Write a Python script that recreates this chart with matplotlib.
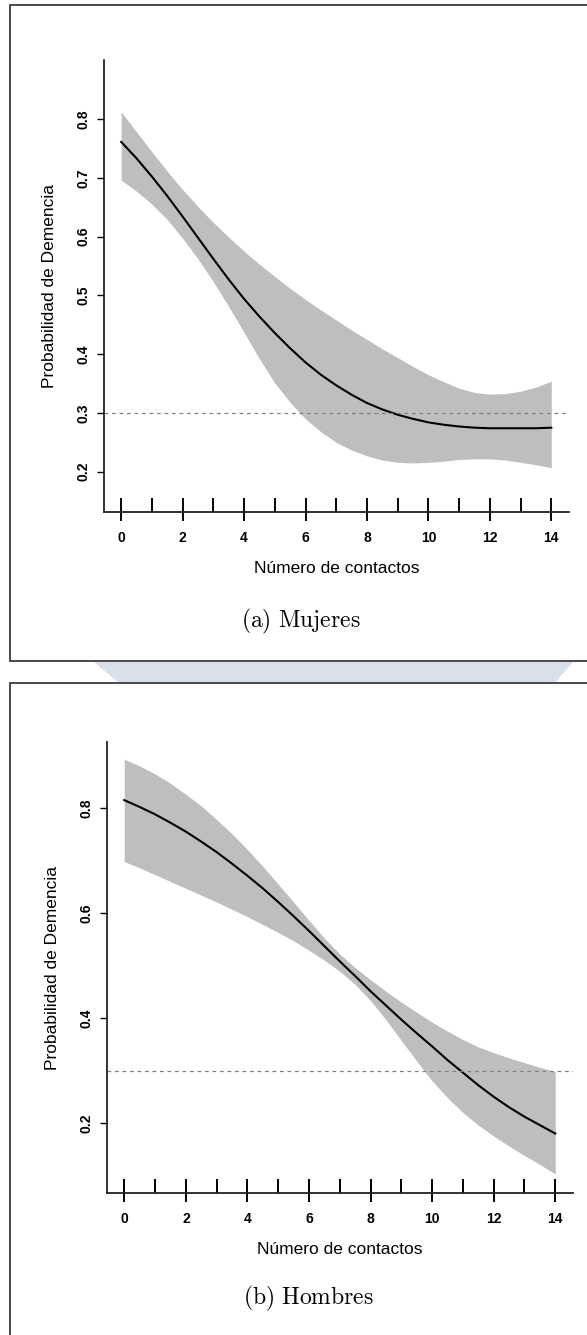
import numpy as np
import matplotlib.pyplot as plt
from matplotlib.patches import Rectangle, Polygon

plt.rcParams['font.family'] = ['Liberation Sans', 'DejaVu Sans']
plt.rcParams['mathtext.fontset'] = 'cm'

# Valores de x donde se evaluó la curva ajustada
contactos = [0, 0.5, 1, 1.5, 2, 2.5, 3, 3.5, 4, 4.5, 5, 5.5, 6, 6.5, 7,
             7.5, 8, 8.5, 9, 9.5, 10, 10.5, 11, 11.5, 12, 12.5, 13, 13.5, 14]
# Valores observados del número de contactos (rug)
contactos_obs = [0, 1, 2, 3, 4, 5, 6, 7, 8, 9, 10, 11, 12, 13, 14]

# Mujeres: probabilidad estimada e intervalo de confianza
prob_mujeres = [0.761, 0.733, 0.702, 0.669, 0.634, 0.598, 0.562, 0.527, 0.494, 0.464,
                0.436, 0.410, 0.386, 0.365, 0.347, 0.331, 0.317, 0.306, 0.297, 0.290,
                0.284, 0.280, 0.277, 0.275, 0.274, 0.274, 0.274, 0.274, 0.275]
sup_mujeres = [0.812, 0.778, 0.744, 0.711, 0.680, 0.651, 0.624, 0.599, 0.575, 0.553,
               0.532, 0.512, 0.493, 0.475, 0.458, 0.441, 0.425, 0.409, 0.394, 0.379,
               0.365, 0.353, 0.342, 0.335, 0.332, 0.333, 0.337, 0.344, 0.354]
inf_mujeres = [0.696, 0.677, 0.655, 0.629, 0.597, 0.562, 0.523, 0.481, 0.437, 0.392,
               0.351, 0.318, 0.290, 0.268, 0.250, 0.237, 0.227, 0.220, 0.216, 0.215,
               0.216, 0.218, 0.221, 0.222, 0.222, 0.220, 0.216, 0.212, 0.207]

# Hombres: probabilidad estimada e intervalo de confianza
prob_hombres = [0.815, 0.802, 0.788, 0.772, 0.755, 0.736, 0.716, 0.694, 0.671, 0.647,
                0.621, 0.594, 0.566, 0.537, 0.508, 0.480, 0.451, 0.424, 0.397, 0.371,
                0.346, 0.320, 0.296, 0.272, 0.250, 0.230, 0.212, 0.196, 0.180]
sup_hombres = [0.893, 0.880, 0.865, 0.847, 0.826, 0.804, 0.778, 0.751, 0.721, 0.689,
               0.655, 0.621, 0.586, 0.552, 0.522, 0.496, 0.473, 0.451, 0.430, 0.411,
               0.392, 0.375, 0.359, 0.345, 0.334, 0.324, 0.315, 0.306, 0.298]
inf_hombres = [0.698, 0.686, 0.673, 0.660, 0.647, 0.634, 0.621, 0.607, 0.593, 0.578,
               0.563, 0.547, 0.529, 0.510, 0.489, 0.464, 0.433, 0.397, 0.357, 0.318,
               0.280, 0.248, 0.220, 0.196, 0.175, 0.156, 0.138, 0.121, 0.103]

umbral = 0.3

W, H = 587, 1335


def px(x, y):
    # pixeles -> fraccion de figura
    return x / W, 1 - y / H


def dibujar_panel(ax, prob, sup, inf, yticks, ylim):
    ax.fill_between(contactos, inf, sup, color='#bebebe', lw=0)
    ax.plot(contactos, prob, color='black', lw=1.5)
    ax.axhline(umbral, color='#808080', lw=0.9, ls=(0, (3, 3)))
    # rug sobre el eje x
    ax.vlines(contactos_obs, 0, 0.031, transform=ax.get_xaxis_transform(),
              color='black', lw=1.4, clip_on=False)

    ax.set_xlim(-0.56, 14.56)
    ax.set_ylim(*ylim)
    ax.set_facecolor('none')
    for lado in ['top', 'right']:
        ax.spines[lado].set_visible(False)
    for lado in ['left', 'bottom']:
        ax.spines[lado].set_linewidth(1.3)
        ax.spines[lado].set_color('#222222')

    ax.set_xticks([0, 2, 4, 6, 8, 10, 12, 14])
    ax.set_xticklabels(['0', '2', '4', '6', '8', '10', '12', '14'],
                       fontweight='bold', fontsize=10)
    ax.set_yticks(yticks)
    ax.set_yticklabels([f'{v:.1f}' for v in yticks], fontweight='bold',
                       fontsize=10, rotation=90, va='center')
    ax.tick_params(axis='x', direction='out', length=6.5, width=1.4, pad=7)
    ax.tick_params(axis='y', direction='out', length=5, width=1.0, pad=5)

    ax.set_xlabel('Número de contactos', fontsize=12.5, labelpad=12)
    ax.set_ylabel('Probabilidad de Demencia', fontsize=12.5, labelpad=14)


fig = plt.figure(figsize=(W / 100, H / 100), dpi=100)

# marca de agua entre los dos recuadros
fig.add_artist(Polygon([px(94, 662), px(573, 662), px(554, 684), px(120, 684)],
                       closed=True, transform=fig.transFigure,
                       facecolor='#dadfec', edgecolor='none', zorder=-3))

# recuadros de cada figura
x0, y0 = px(9.5, 661)
fig.add_artist(Rectangle((x0, y0), 1.2, 656.5 / H, transform=fig.transFigure,
                         facecolor='white', edgecolor='#2b2b2b', lw=1.2, zorder=-2))
x0, y0 = px(9.5, 1340)
fig.add_artist(Rectangle((x0, y0), 1.2, (1340 - 683) / H, transform=fig.transFigure,
                         facecolor='white', edgecolor='#2b2b2b', lw=1.2, zorder=-2))

# (a) Mujeres
ax1 = fig.add_axes([104 / W, 1 - 512 / H, 464.5 / W, 452 / H])
dibujar_panel(ax1, prob_mujeres, sup_mujeres, inf_mujeres,
              [0.2, 0.3, 0.4, 0.5, 0.6, 0.7, 0.8], (0.1316, 0.9003))
fig.text(*px(301, 621), r'$\mathrm{(a)\ Mujeres}$', ha='center', va='center', fontsize=17)

# (b) Hombres
ax2 = fig.add_axes([107 / W, 1 - 1193 / H, 465.5 / W, 451 / H])
dibujar_panel(ax2, prob_hombres, sup_hombres, inf_hombres,
              [0.2, 0.4, 0.6, 0.8], (0.0667, 0.9257))
fig.text(*px(308, 1298), r'$\mathrm{(b)\ Hombres}$', ha='center', va='center', fontsize=17)

fig.savefig('out.png', dpi=100)
